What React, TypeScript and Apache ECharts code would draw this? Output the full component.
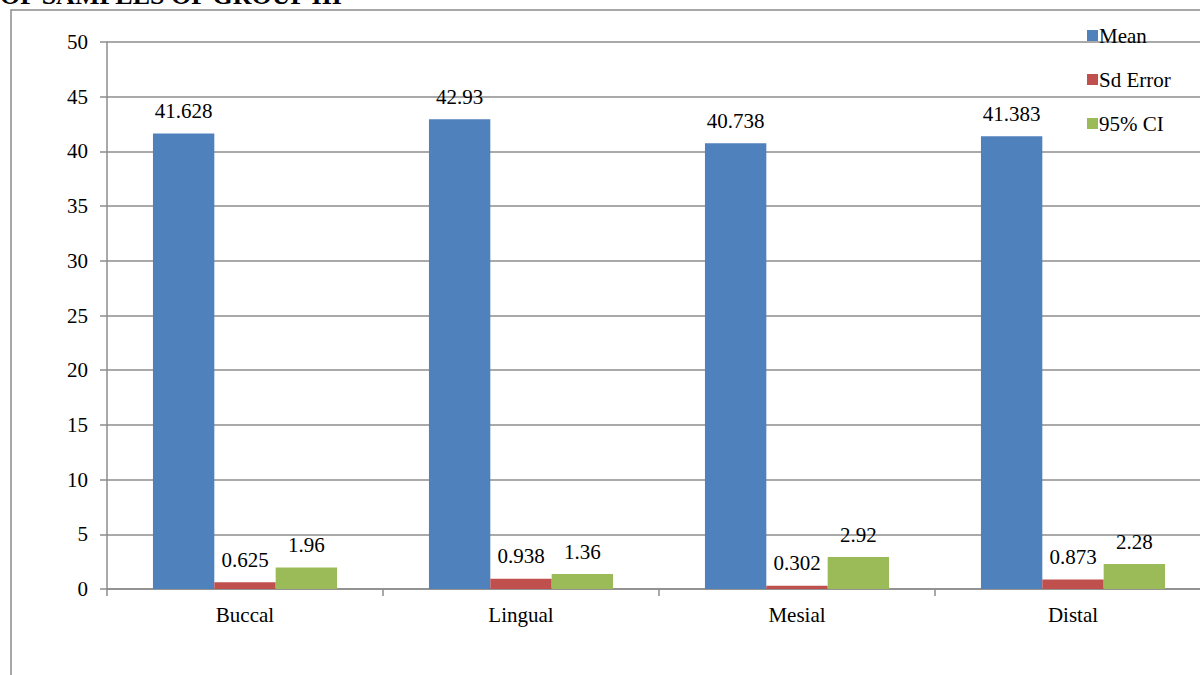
import React, { useEffect, useRef } from "react";
import * as echarts from "echarts";

const categories = ["Buccal", "Lingual", "Mesial", "Distal"];
const meanValues = [41.628, 42.93, 40.738, 41.383];
const sdErrorValues = [0.625, 0.938, 0.302, 0.873];
const ciValues = [1.96, 1.36, 2.92, 2.28];
const seriesNames = ["Mean", "Sd Error", "95% CI"];
const titleText = "OF SAMPLES OF GROUP III";

const FONT = '"Liberation Serif", "Times New Roman", serif';

export default function App() {
  const ref = useRef<HTMLDivElement>(null);
  useEffect(() => {
    if (!ref.current) return;
    const chart = echarts.init(ref.current, undefined, { renderer: "svg" });
    const label = {
      show: true,
      position: "top" as const,
      distance: 12,
      fontFamily: FONT,
      fontSize: 21,
      color: "#000",
    };
    chart.setOption({
      animation: false,
      textStyle: { fontFamily: FONT },
      graphic: [
        {
          type: "rect",
          shape: { x: 11, y: 10, width: 1300, height: 800 },
          style: { fill: "none", stroke: "#8c8c8c", lineWidth: 1.5 },
          silent: true,
        },
        {
          type: "text",
          x: 0,
          y: 8,
          style: {
            text: titleText,
            font: `bold 26px ${FONT}`,
            fill: "#000",
            verticalAlign: "bottom",
          },
        },
      ],
      legend: {
        orient: "vertical",
        left: 1082,
        top: 20,
        itemWidth: 11,
        itemHeight: 11,
        itemGap: 23,
        icon: "rect",
        textStyle: { fontFamily: FONT, fontSize: 21, color: "#000", padding: [0, 0, 0, -4] },
        data: seriesNames,
      },
      grid: { left: 107, top: 42, width: 1104, height: 547, containLabel: false },
      xAxis: {
        type: "category",
        data: categories,
        axisLine: { lineStyle: { color: "#8c8c8c", width: 1.5 } },
        axisTick: { show: true, length: 7, lineStyle: { color: "#8c8c8c", width: 1.5 } },
        axisLabel: { fontFamily: FONT, fontSize: 21, color: "#000", margin: 15 },
      },
      yAxis: {
        type: "value",
        min: 0,
        max: 50,
        interval: 5,
        axisLine: { show: true, lineStyle: { color: "#8c8c8c", width: 1.5 } },
        axisTick: { show: true, length: 7, lineStyle: { color: "#8c8c8c", width: 1.5 } },
        axisLabel: { fontFamily: FONT, fontSize: 21, color: "#000", margin: 19 },
        splitLine: { lineStyle: { color: "#8c8c8c", width: 1.5 } },
      },
      series: [
        { name: seriesNames[0], type: "bar", data: meanValues, itemStyle: { color: "#4F81BD" }, barGap: "0%", barCategoryGap: "33.3%", label },
        { name: seriesNames[1], type: "bar", data: sdErrorValues, itemStyle: { color: "#C0504D" }, barGap: "0%", barCategoryGap: "33.3%", label },
        { name: seriesNames[2], type: "bar", data: ciValues, itemStyle: { color: "#9BBB59" }, barGap: "0%", barCategoryGap: "33.3%", label },
      ],
    });
    return () => chart.dispose();
  }, []);
  return (
    <div style={{ position: "fixed", left: 0, top: 0, width: 1200, height: 675, overflow: "hidden", background: "#fff" }}>
      <div ref={ref} style={{ width: 1240, height: 675 }} />
    </div>
  );
}
